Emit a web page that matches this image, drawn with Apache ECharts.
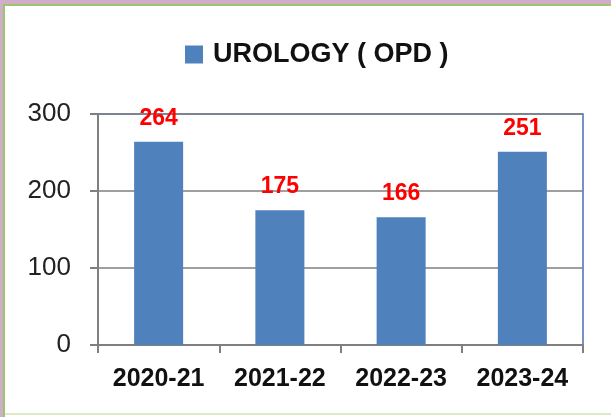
<!DOCTYPE html>
<html>
<head>
<meta charset="utf-8">
<script src="https://cdn.jsdelivr.net/npm/echarts@6/dist/echarts.min.js"></script>
<style>
  html, body { margin: 0; padding: 0; background: #fff; }
  #chart { width: 611px; height: 417px; }
</style>
</head>
<body>
<div id="chart"></div>
<script>
// data
var seriesName = "UROLOGY ( OPD )";
var years = ["2020-21", "2021-22", "2022-23", "2023-24"];
var opd = [264, 175, 166, 251];

var chart = echarts.init(document.getElementById("chart"));

chart.setOption({
    animation: false,
    backgroundColor: "#fff",
    graphic: [
        // frame: pink band + green line on top and left, faint green line at the bottom
        { type: "rect", shape: { x: 0, y: 0, width: 611, height: 4 }, style: { fill: "#d2adc9" } },
        { type: "rect", shape: { x: 0, y: 0, width: 3, height: 417 }, style: { fill: "#d2adc9" } },
        { type: "rect", shape: { x: 3, y: 4, width: 608, height: 2 }, style: { fill: "#9cc66c" } },
        { type: "rect", shape: { x: 3, y: 4, width: 2, height: 413 }, style: { fill: "#9cc66c" } },
        { type: "rect", shape: { x: 5, y: 413, width: 606, height: 2 }, style: { fill: "#dcebc6" } }
    ],
    legend: {
        left: 185,
        top: 41,
        padding: 0,
        itemWidth: 18,
        itemHeight: 18,
        icon: "rect",
        textStyle: {
            fontFamily: "Liberation Sans",
            fontWeight: "bold",
            fontSize: 27,
            color: "#111",
            padding: [0, 0, 0, 5]
        },
        data: [seriesName]
    },
    grid: {
        left: 98,
        top: 114,
        right: 28,
        bottom: 72,
        show: true,
        borderColor: "#4a6db3",
        borderWidth: 1.5,
        backgroundColor: "#fff"
    },
    xAxis: {
        type: "category",
        data: years,
        axisLine: { lineStyle: { color: "#7f7f7f", width: 2 } },
        axisTick: { show: true, length: 8, lineStyle: { color: "#7f7f7f", width: 2 } },
        axisLabel: {
            margin: 22,
            fontFamily: "Liberation Sans",
            fontWeight: "bold",
            fontSize: 25,
            color: "#111"
        }
    },
    yAxis: {
        type: "value",
        min: 0,
        max: 300,
        interval: 100,
        axisLine: { show: true, lineStyle: { color: "#7f7f7f", width: 2 } },
        axisTick: { show: true, length: 8, lineStyle: { color: "#7f7f7f", width: 2 } },
        splitLine: { lineStyle: { color: "#7f7f7f", width: 1.5 } },
        axisLabel: {
            margin: 27,
            fontFamily: "Liberation Sans",
            fontSize: 26,
            color: "#222"
        }
    },
    series: [{
        name: seriesName,
        type: "bar",
        data: opd,
        barWidth: 49,
        itemStyle: { color: "#4f81bd" },
        label: {
            show: true,
            position: "top",
            distance: 12,
            fontFamily: "Liberation Sans",
            fontWeight: "bold",
            fontSize: 23,
            color: "#ff0000"
        }
    }]
});
</script>
</body>
</html>
